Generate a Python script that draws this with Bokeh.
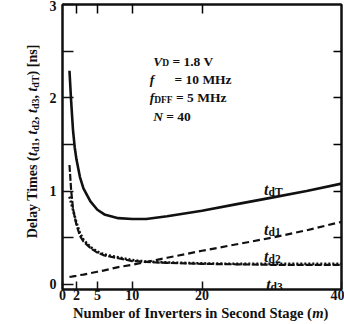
import math
from bokeh.plotting import figure
from bokeh.layouts import row, column
from bokeh.models import FixedTicker, LinearAxis, Label, Range1d, CustomJSTickFormatter
from bokeh.core.properties import value
from bokeh.embed import file_html
from bokeh.resources import INLINE

# ---- data ----
m = [1, 1.25, 1.5, 1.75, 2, 2.5, 3, 4, 5, 6, 8, 10, 12, 15, 20, 25, 30, 35, 40]
t_d1 = [0.08, 0.082, 0.085, 0.088, 0.09, 0.10, 0.105, 0.12, 0.135, 0.15, 0.185, 0.21, 0.24, 0.285, 0.36, 0.43, 0.50, 0.58, 0.67]
t_d2 = [0.94, 0.87, 0.80, 0.73, 0.66, 0.55, 0.48, 0.40, 0.35, 0.32, 0.29, 0.26, 0.245, 0.235, 0.225, 0.22, 0.22, 0.22, 0.22]
t_d3 = [1.28, 1.00, 0.82, 0.72, 0.64, 0.52, 0.46, 0.39, 0.34, 0.31, 0.28, 0.25, 0.24, 0.23, 0.22, 0.215, 0.21, 0.21, 0.21]
t_dT = [2.29, 1.95, 1.66, 1.47, 1.34, 1.15, 1.03, 0.89, 0.80, 0.75, 0.71, 0.70, 0.70, 0.73, 0.79, 0.86, 0.93, 1.00, 1.08]

x_ticks = [0, 2, 5, 10, 20, 40]
x_top_ticks = [2, 5, 10, 20]
y_ticks = [0, 1, 2, 3]
y_minor = [0.5, 1.5, 2.5]
y_right_ticks = [0.5, 1, 1.5, 2, 2.5]

FONT = "Liberation Serif"
INK = "#111111"

# approximate advance widths (1/1000 em) for Times-like bold / bold italic
BOLD = {' ': 250, '(': 333, ')': 333, '[': 333, ']': 333, ',': 250, '=': 570, '.': 250,
        'A': 722, 'D': 722, 'F': 611, 'H': 778, 'I': 389, 'M': 944, 'N': 722, 'S': 556,
        'T': 667, 'V': 722, 'a': 500, 'b': 556, 'c': 444, 'd': 556, 'e': 444, 'f': 333,
        'g': 500, 'i': 278, 'l': 278, 'm': 833, 'n': 556, 'o': 500, 'r': 444, 's': 389,
        't': 333, 'u': 556, 'v': 500, 'y': 500, 'z': 444}
BOLDIT = {'t': 278, 'f': 333, 'V': 667, 'N': 722, 'm': 778}


def width(txt, size, italic):
    tab = BOLDIT if italic else BOLD
    w = 0
    for ch in txt:
        if ch.isdigit():
            w += 500
        else:
            w += tab.get(ch, BOLD.get(ch, 500))
    return w * size / 1000.0


def layout_pieces(pieces, center):
    total = sum(width(t, s, it) for t, s, it, d in pieces)
    pos = -total / 2 if center else 0.0
    out = []
    for txt, size, it, drop in pieces:
        stripped = txt.lstrip(" ")
        lead = width(txt[:len(txt) - len(stripped)], size, it)
        out.append((stripped, size, it, drop, pos + lead))
        pos += width(txt, size, it)
    return out


def rich_label(p, x, y, pieces):
    for txt, size, it, drop, pos in layout_pieces(pieces, False):
        p.add_layout(Label(x=x, y=y, x_offset=pos, y_offset=-drop,
                           text=txt, text_font=FONT,
                           text_font_style="bold italic" if it else "bold",
                           text_font_size=f"{size}px", text_color=INK,
                           text_align="left", text_baseline="alphabetic"))


WIN_W, WIN_H = 344, 324
LEFT_W = 46
MAIN_W = WIN_W - LEFT_W
MAIN_H = 306
BOT_H = WIN_H - MAIN_H
BL, BR = 15, 3

p = figure(width=MAIN_W, height=MAIN_H, x_range=Range1d(0, 40), y_range=Range1d(-0.055, 3.0),
           output_backend="svg", toolbar_location=None,
           min_border_left=BL, min_border_right=BR, min_border_top=4, min_border_bottom=17)
p.background_fill_color = "white"
p.border_fill_color = "white"
p.outline_line_color = INK
p.outline_line_width = 2
p.xgrid.visible = False
p.ygrid.visible = False

blank = CustomJSTickFormatter(code="return ''")

xa = p.xaxis[0]
xa.ticker = FixedTicker(ticks=x_ticks, minor_ticks=[])
xa.major_tick_in = 8
xa.major_tick_out = 0
xa.major_tick_line_width = 1.5
xa.major_tick_line_color = INK
xa.axis_line_width = 2
xa.axis_line_color = INK
xa.major_label_text_font = FONT
xa.major_label_text_font_style = "bold"
xa.major_label_text_font_size = "14px"
xa.major_label_text_color = INK
xa.major_label_standoff = 0

ya = p.yaxis[0]
ya.ticker = FixedTicker(ticks=y_ticks, minor_ticks=y_minor)
ya.major_tick_in = 11
ya.major_tick_out = 0
ya.minor_tick_in = 11
ya.minor_tick_out = 0
ya.major_tick_line_width = 1.5
ya.minor_tick_line_width = 1.5
ya.major_tick_line_color = INK
ya.minor_tick_line_color = INK
ya.axis_line_width = 2
ya.axis_line_color = INK
ya.major_label_text_font = FONT
ya.major_label_text_font_style = "bold"
ya.major_label_text_font_size = "14px"
ya.major_label_text_color = INK
ya.major_label_standoff = 6

top = LinearAxis(ticker=FixedTicker(ticks=x_top_ticks, minor_ticks=[]), formatter=blank,
                 major_tick_in=9, major_tick_out=0, major_label_standoff=0,
                 major_tick_line_width=1.5, axis_line_width=2, axis_line_color=INK,
                 major_label_text_font_size="1px")
p.add_layout(top, "above")
right = LinearAxis(ticker=FixedTicker(ticks=y_right_ticks, minor_ticks=[]), formatter=blank,
                   major_tick_in=8, major_tick_out=0, major_label_standoff=0,
                   major_tick_line_width=1.5, axis_line_width=2, axis_line_color=INK,
                   major_label_text_font_size="1px")
p.add_layout(right, "right")

# ---- curves ----
p.line(m, t_dT, line_color=INK, line_width=2.6)
p.line(m, t_d1, line_color=INK, line_width=2.2, line_dash="7 4")
p.line(m, t_d2, line_color=INK, line_width=2.6, line_dash="2 2")
p.line(m, t_d3, line_color=INK, line_width=2.2, line_dash="7 2")

# ---- curve labels ----
rich_label(p, 28.9, 1.02, [("t", 16, True, 0), ("dT", 11.5, False, 3)])
rich_label(p, 28.9, 0.59, [("t", 16, True, 0), ("d1", 11.5, False, 3)])
rich_label(p, 28.9, 0.30, [("t", 16, True, 0), ("d2", 11.5, False, 3)])
rich_label(p, 29.2, 0.00, [("t", 16, True, 0), ("d3", 11.5, False, 3)])

# ---- condition block ----
rich_label(p, 13.0, 2.39, [("V", 13.5, True, 0), ("D", 9.5, False, 2), (" = 1.8 V", 13.5, False, 0)])
rich_label(p, 12.5, 2.20, [("f", 13.5, True, 0), ("      = 10 MHz", 13.5, False, 0)])
rich_label(p, 12.5, 2.00, [("f", 13.5, True, 0), ("DFF", 9.5, False, 2), (" = 5 MHz", 13.5, False, 0)])
rich_label(p, 13.0, 1.80, [("N", 13.5, True, 0), (" = 40", 13.5, False, 0)])


def blank_fig(w, h, xr, yr, bl=0, br=0):
    f = figure(width=w, height=h, x_range=Range1d(*xr), y_range=Range1d(*yr),
               output_backend="svg", toolbar_location=None, x_axis_type=None, y_axis_type=None,
               min_border=0, min_border_left=bl, min_border_right=br,
               min_border_top=0, min_border_bottom=0)
    f.outline_line_color = None
    f.xgrid.visible = False
    f.ygrid.visible = False
    f.background_fill_color = "white"
    f.border_fill_color = "white"
    return f


def gtext(f, x, y, txt, size, italic, angle=0.0, align="left", xo=0.0, yo=0.0):
    f.text(x=[x], y=[y], text=[txt], angle=angle, x_offset=xo, y_offset=yo,
           text_font=value(FONT), text_font_style="bold italic" if italic else "bold",
           text_font_size=f"{size}px", text_color=INK,
           text_align=align, text_baseline="alphabetic")


# y-axis title (rotated, with italic t and subscripts); figure units = pixels from bottom-left
fy = blank_fig(LEFT_W, WIN_H, (0, LEFT_W), (0, WIN_H))
ytitle = [("Delay Times (", 14, False, 0),
          ("t", 14, True, 0), ("d1", 10, False, 3), (", ", 14, False, 0),
          ("t", 14, True, 0), ("d2", 10, False, 3), (", ", 14, False, 0),
          ("t", 14, True, 0), ("d3", 10, False, 3), (", ", 14, False, 0),
          ("t", 14, True, 0), ("dT", 10, False, 3), (") [ns]", 14, False, 0)]
Y_BASE_X, Y_CENTER = 32, WIN_H - 141
for txt, size, it, drop, pos in layout_pieces(ytitle, True):
    gtext(fy, Y_BASE_X + drop, Y_CENTER + pos, txt, size, it, angle=math.pi / 2)

# x-axis title, in the same data units as the main plot (frame aligned with it)
fx = blank_fig(MAIN_W, BOT_H, (0, 40), (0, BOT_H), bl=BL, br=BR)
M_X, T_BASE = 35.8, 11.5
XT = 14.6
gtext(fx, M_X, T_BASE, "Number of Inverters in Second Stage (", XT, False, align="right")
gtext(fx, M_X, T_BASE, "m", XT, True)
gtext(fx, M_X, T_BASE, ")", XT, False, xo=width("m", XT, True))

layout = row(fy, column(p, fx, spacing=0), spacing=0)
open("out.html", "w").write(file_html(layout, INLINE))
